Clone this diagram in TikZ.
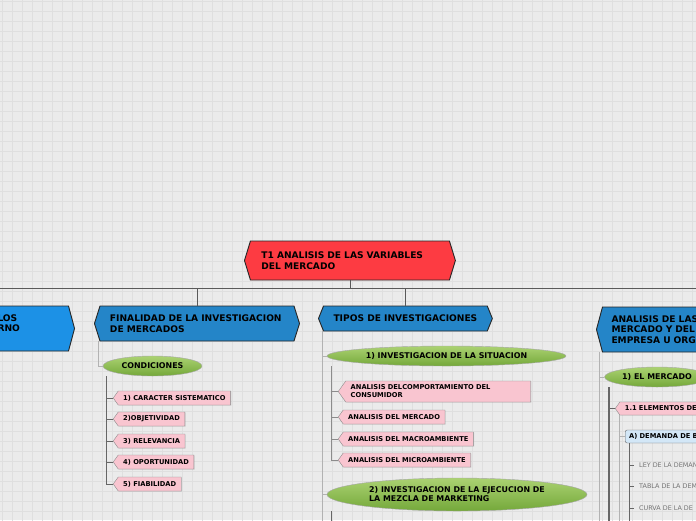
\documentclass[tikz,border=0pt]{standalone}
\usepackage{fontspec}
\setmainfont{DejaVu Sans}
\usetikzlibrary{shapes.symbols,shapes.geometric,calc,shadows}

\definecolor{fondo}{HTML}{EBEBEB}
\definecolor{rejilla}{HTML}{DFDFDF}
\definecolor{rojo}{HTML}{FD3B42}
\definecolor{azul}{HTML}{2485C8}
\definecolor{azulvivo}{HTML}{1C91E6}
\definecolor{rosa}{HTML}{F9C5D0}
\definecolor{verdeclaro}{HTML}{ABD272}
\definecolor{verdeoscuro}{HTML}{74A83A}
\definecolor{celeste}{HTML}{D3E7F7}

\begin{document}
\begin{tikzpicture}[x=1pt,y=-1pt,
		tema/.style={signal, signal to=west and east, draw=black!85, line width=0.9pt,
			font=\fontsize{9.1}{10.6}\selectfont\bfseries, align=left, inner xsep=10pt, inner ysep=0pt},
		etiqueta/.style={signal, signal to=west, signal pointer angle=109, fill=rosa, draw=black!45,
			drop shadow={shadow xshift=0.7pt, shadow yshift=-0.7pt, opacity=0.25},
			minimum height=14pt, inner xsep=5pt, inner ysep=0pt, anchor=west,
			font=\fontsize{6.7}{8}\selectfont\bfseries, align=left},
		ovalo/.style={ellipse, draw=black!35, top color=verdeclaro, bottom color=verdeoscuro,
			inner sep=0pt, minimum height=20pt, font=\fontsize{7.9}{9}\selectfont\bfseries},
		hoja/.style={inner xsep=5pt, inner ysep=1pt, anchor=west, text=black!55,
			font=\fontsize{6.4}{7}\selectfont},
		bus/.style={draw=black!65, line width=0.8pt},
		gris/.style={draw=black!30, line width=0.8pt},
		medio/.style={draw=black!45, line width=0.8pt},
		oscuro/.style={draw=black!60, line width=0.8pt},
		grueso/.style={draw=black!60, line width=1.5pt}
	]
	\useasboundingbox (0,0) rectangle (696,520);
	\fill[fondo] (0,0) rectangle (696,520);
	\clip (0,0) rectangle (696,520);
	\begin{scope}[shift={(2,1)}]
		\draw[rejilla, line width=0.8pt, step=10pt] (-2,-1) grid (696,520);
	\end{scope}

	\node[tema, fill=rojo, text width=177pt, inner xsep=11pt, minimum height=39pt, signal pointer angle=146, anchor=west] (raiz) at (244,260.5) {\mbox{T1 ANALISIS DE LAS VARIABLES}\\DEL MERCADO};
	\node[tema, fill=azulvivo, text width=61pt, minimum height=45pt, signal pointer angle=150, anchor=east] (lft) at (75,328.5) {LOS\\RNO\\\mbox{}};
	\node[tema, fill=azul, text width=174pt, minimum height=35pt, signal pointer angle=145, anchor=west] (fin) at (94,323.5) {\mbox{FINALIDAD DE LA INVESTIGACION}\\DE MERCADOS};
	\node[tema, fill=azul, minimum height=25pt, signal pointer angle=136, anchor=west] (tipos) at (318,318.5) {TIPOS DE INVESTIGACIONES};
	\node[tema, fill=azul, text width=120pt, inner xsep=9pt, minimum height=45pt, signal pointer angle=150, anchor=west] (ana) at (596,329.5) {ANALISIS DE LAS\\MERCADO Y DEL E\\EMPRESA U ORGA};

	\node[ovalo, minimum width=99pt] (cond) at (152.5,366) {CONDICIONES};
	\node[etiqueta] (c1) at (113,398) {1) CARACTER SISTEMATICO};
	\node[etiqueta] (c2) at (113,419) {2)OBJETIVIDAD};
	\node[etiqueta] (c3) at (113,441) {3) RELEVANCIA};
	\node[etiqueta] (c4) at (113,462) {4) OPORTUNIDAD};
	\node[etiqueta] (c5) at (113,484) {5) FIABILIDAD};

	\node[ovalo, minimum width=239pt] (sit) at (446.5,356) {1) INVESTIGACION DE LA SITUACION};
	\node[etiqueta, minimum height=21pt, text width=175pt] (com) at (338,391.5) {ANALISIS DELCOMPORTAMIENTO DEL\\CONSUMIDOR};
	\node[etiqueta] (mer) at (338,417) {ANALISIS DEL MERCADO};
	\node[etiqueta] (mac) at (338,439) {ANALISIS DEL MACROAMBIENTE};
	\node[etiqueta] (mic) at (338,460) {ANALISIS DEL MICROAMBIENTE};
	\node[ovalo, minimum width=260pt, minimum height=33pt, align=left] (mez) at (457,494.5) {2) INVESTIGACION DE LA EJECUCION DE\\LA MEZCLA DE MARKETING};

	\node[ovalo, minimum width=105pt] (merc) at (657,377) {1) EL MERCADO};
	\node[etiqueta, minimum height=13pt, text width=90pt] (elem) at (615,408.5) {1.1 ELEMENTOS DE};
	\node[rectangle, rounded corners=2pt, fill=celeste, draw=black!60, minimum height=13pt, text width=80pt,
		inner xsep=4pt, inner ysep=0pt, anchor=west, font=\fontsize{6.7}{8}\selectfont\bfseries] (dem) at (625,436.5) {A) DEMANDA DE B};
	\node[hoja] (ley) at (634,465) {LEY DE LA DEMAN};
	\node[hoja] (tab) at (634,486) {TABLA DE LA DEM};
	\node[hoja] (cur) at (634,508) {CURVA DE LA DE};

	\coordinate (busizq) at (0,288);
	\coordinate (busder) at (696,288);
	\coordinate (borde) at (0,522);
	\draw[bus] (busizq) -- (busder);
	\draw[bus] (raiz.south) -- (raiz.south |- busizq);
	\draw[bus] (fin.north |- busizq) -- (fin.north);
	\draw[bus] (tipos.north |- busizq) -- (tipos.north);

	\draw[gris] ($(fin.west |- fin.south)+(4,0)$) |- (cond.west);
	\coordinate (c0) at ($(cond.west |- cond.south)+(4,0)$);
	\draw[oscuro] (c0) |- (c1.west);
	\draw[oscuro] (c0) |- (c2.west);
	\draw[oscuro] (c0) |- (c3.west);
	\draw[oscuro] (c0) |- (c4.west);
	\draw[oscuro] (c0) |- (c5.west);

	\coordinate (t0) at ($(tipos.west |- tipos.south)+(4,0)$);
	\draw[gris] (t0) |- (sit.west);
	\draw[gris] (t0) |- (mez.west);
	\draw[gris] (t0) -- (t0 |- borde);
	\coordinate (s0) at ($(sit.west |- sit.south)+(4.5,0)$);
	\draw[medio] (s0) |- (com.west);
	\draw[medio] (s0) |- (mer.west);
	\draw[medio] (s0) |- (mac.west);
	\draw[medio] (s0) |- (mic.west);
	\coordinate (m0) at ($(mez.west |- mez.south)+(4.5,0)$);
	\draw[oscuro] (m0) -- (m0 |- borde);

	\coordinate (a0) at ($(ana.west |- ana.south)+(3,0)$);
	\draw[gris] (a0) |- (merc.west);
	\draw[gris] (a0) -- (a0 |- borde);
	\coordinate (e0) at ($(merc.west |- merc.south)+(4.5,0)$);
	\draw[grueso] (e0) |- (elem.west);
	\draw[grueso] (e0) -- (e0 |- borde);
	\coordinate (d0) at ($(elem.west |- elem.south)+(4,0)$);
	\draw[gris] (d0) |- (dem.west);
	\draw[gris] (d0) -- (d0 |- borde);
	\coordinate (h0) at ($(dem.west |- dem.south)+(4,0)$);
	\draw[oscuro] (h0) |- (ley.west);
	\draw[oscuro] (h0) |- (tab.west);
	\draw[oscuro] (h0) |- (cur.west);
	\draw[oscuro] (h0) -- (h0 |- borde);
\end{tikzpicture}
\end{document}
